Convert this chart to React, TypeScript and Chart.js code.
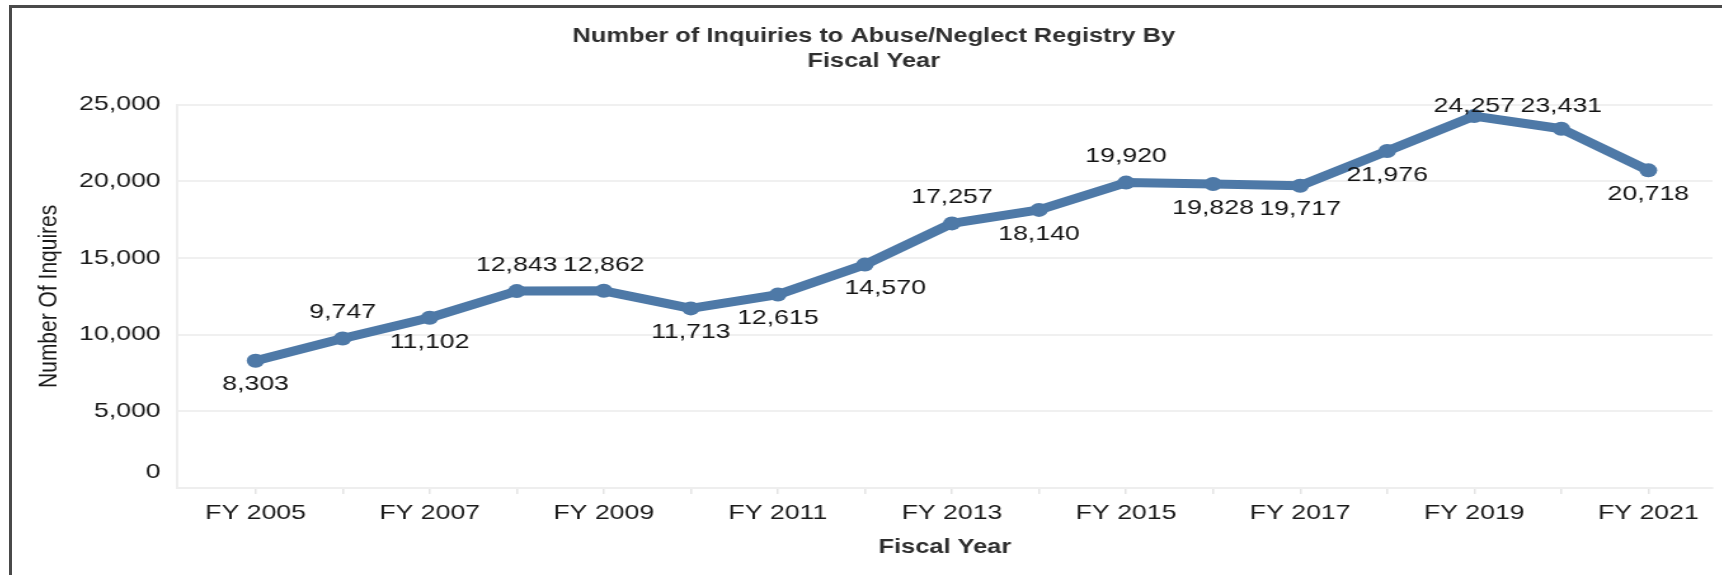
import React, { useEffect, useRef } from 'react';
import { Chart, registerables } from 'chart.js';

Chart.register(...registerables);

// ---- data ----
const fiscalYears = [2005, 2006, 2007, 2008, 2009, 2010, 2011, 2012, 2013, 2014, 2015, 2016, 2017, 2018, 2019, 2020, 2021];
const yearLabels = fiscalYears.map((y) => `FY ${y}`);
const inquiries = [8303, 9747, 11102, 12843, 12862, 11713, 12615, 14570, 17257, 18140, 19920, 19828, 19717, 21976, 24257, 23431, 20718];
const yTickValues = [0, 5000, 10000, 15000, 20000, 25000];
const labelPlacement = [
  'below', 'above', 'below', 'above', 'above', 'below', 'below', 'below-right', 'above',
  'below', 'above', 'below', 'below', 'below', 'above', 'above', 'below',
];

const FONT = "'Liberation Sans', Arial, Helvetica, sans-serif";
const STRETCH = 1.27;
const CANVAS_W = 1335;
const CANVAS_H = 575;

const fmt = (v: number) => v.toLocaleString('en-US');

const pointLabelPlugin = {
  id: 'pointLabels',
  afterDatasetsDraw(chart: any) {
    const { ctx, chartArea } = chart;
    const meta = chart.getDatasetMeta(0);
    ctx.save();
    ctx.font = `21px ${FONT}`;
    ctx.fillStyle = '#141414';
    ctx.textAlign = 'center';
    ctx.textBaseline = 'middle';
    meta.data.forEach((pt: any, i: number) => {
      const place = labelPlacement[i];
      let y = place === 'above' ? pt.y - 26 : pt.y + 24;
      if (y < chartArea.top + 2) y = chartArea.top + 2;
      const x = place === 'below-right' ? pt.x + 16 : pt.x;
      ctx.fillText(fmt(inquiries[i]), x, y);
    });
    ctx.restore();
  },
};

export default function App() {
  const ref = useRef<HTMLCanvasElement>(null);

  useEffect(() => {
    if (!ref.current) return;
    const chart = new Chart(ref.current, {
      type: 'line',
      data: {
        datasets: [
          {
            label: 'Number Of Inquires',
            data: fiscalYears.map((y, i) => ({ x: y, y: inquiries[i] })),
            borderColor: '#4e79a7',
            backgroundColor: '#4e79a7',
            borderWidth: 9,
            pointRadius: 7,
            pointHoverRadius: 7,
            pointBackgroundColor: '#4e79a7',
            pointBorderWidth: 0,
            tension: 0,
            borderJoinStyle: 'round',
            borderCapStyle: 'round',
          },
        ],
      },
      plugins: [pointLabelPlugin],
      options: {
        animation: false,
        responsive: false,
        maintainAspectRatio: false,
        devicePixelRatio: 1,
        layout: { padding: 0 },
        plugins: {
          legend: { display: false },
          tooltip: { enabled: false },
          title: {
            display: true,
            text: ['Number of Inquiries to Abuse/Neglect Registry By', 'Fiscal Year'],
            color: '#2e2e2e',
            font: { family: FONT, size: 20, weight: 'bold', lineHeight: 1.25 },
            padding: { top: 24, bottom: 30.7 },
          },
        },
        scales: {
          x: {
            type: 'linear',
            min: 2004.099,
            max: 2021.738,
            afterBuildTicks: (scale: any) => {
              scale.ticks = fiscalYears.map((y) => ({ value: y }));
            },
            afterFit: (scale: any) => {
              scale.height = 87;
            },
            ticks: {
              autoSkip: false,
              maxRotation: 0,
              padding: 7,
              color: '#1a1a1a',
              font: { family: FONT, size: 21 },
              callback: (_v: any, index: number) => (index % 2 === 0 ? yearLabels[index] : ''),
            },
            grid: {
              drawOnChartArea: false,
              drawTicks: true,
              tickLength: 6,
              color: '#e4e4e4',
              lineWidth: 1.5,
            },
            border: { display: true, color: '#eeeeee', width: 2 },
            title: {
              display: true,
              text: 'Fiscal Year',
              color: '#2e2e2e',
              font: { family: FONT, size: 20, weight: 'bold', lineHeight: 1.2 },
              padding: { top: 0, bottom: 16 },
            },
          },
          y: {
            type: 'linear',
            min: 0,
            max: 25000,
            afterBuildTicks: (scale: any) => {
              scale.ticks = yTickValues.map((v) => ({ value: v }));
            },
            afterFit: (scale: any) => {
              scale.width = 119;
            },
            ticks: {
              padding: 13,
              color: '#1a1a1a',
              font: { family: FONT, size: 21, lineHeight: 1.5 },
              callback: (v: any) => (v === 0 ? ['0', ''] : fmt(Number(v))),
            },
            grid: {
              drawTicks: false,
              color: '#f0f0f0',
              lineWidth: 2,
            },
            border: { display: true, color: '#eeeeee', width: 2 },
            title: {
              display: true,
              text: 'Number Of Inquires',
              color: '#1a1a1a',
              font: { family: FONT, size: 21, lineHeight: 1.2 },
              padding: { top: 6, bottom: 0 },
            },
          },
        },
      },
    });
    return () => chart.destroy();
  }, []);

  return (
    <div style={{ position: 'absolute', left: 0, top: 0, width: 1722, height: 575, overflow: 'hidden', background: '#ffffff' }}>
      <div
        style={{
          position: 'absolute',
          left: 9,
          top: 5,
          right: -10,
          bottom: -10,
          borderTop: '3px solid #4a4a4a',
          borderLeft: '3px solid #4a4a4a',
        }}
      />
      <div
        style={{
          position: 'absolute',
          left: 26,
          top: 0,
          width: CANVAS_W,
          height: CANVAS_H,
          transform: `scaleX(${STRETCH})`,
          transformOrigin: '0 0',
        }}
      >
        <canvas ref={ref} width={CANVAS_W} height={CANVAS_H} style={{ display: 'block' }} />
      </div>
    </div>
  );
}
